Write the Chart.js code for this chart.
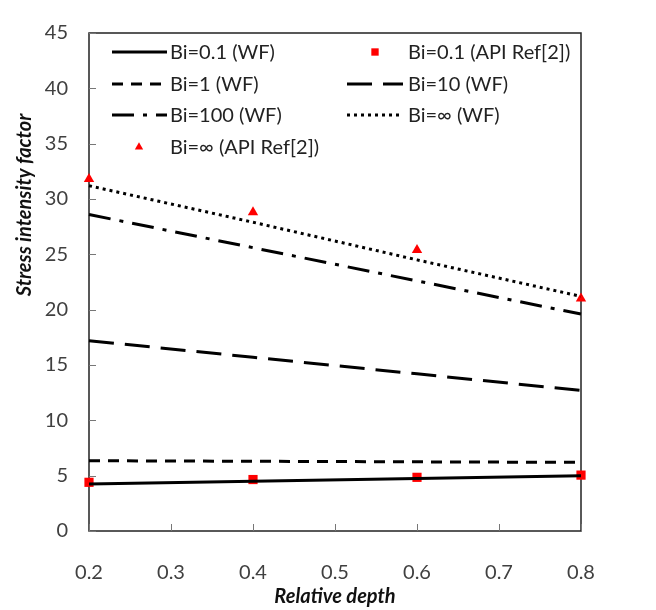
<!DOCTYPE html>
<html>
<head>
<meta charset="utf-8">
<script src="https://cdn.jsdelivr.net/npm/chart.js@4.4.0/dist/chart.umd.min.js"></script>
<style>
  body { margin: 0; background: #fff; }
  #wrap { width: 656px; height: 610px; }
</style>
</head>
<body>
<div id="wrap"><canvas id="myChart" width="656" height="610"></canvas></div>
<script>
// relative depth values (x)
const depth = [0.2, 0.4, 0.6, 0.8];

// weight function results
const wf_01 = [4.25, 4.5, 4.75, 5.0];
const wf_1 = [6.35, 6.3, 6.25, 6.2];
const wf_10 = [17.2, 15.7, 14.2, 12.7];
const wf_100 = [28.6, 25.6, 22.6, 19.6];
const wf_inf = [31.2, 27.9, 24.5, 21.2];

// API reference points
const api_01 = [4.4, 4.65, 4.85, 5.05];
const api_inf = [31.8, 28.8, 25.4, 21.0];

const xTicks = [0.2, 0.3, 0.4, 0.5, 0.6, 0.7, 0.8];
const yTicks = [0, 5, 10, 15, 20, 25, 30, 35, 40, 45];

const FONT = 'Lato, "Open Sans", sans-serif';
const TXT = '#404040';

const toXY = (ys) => ys.map((y, i) => ({x: depth[i], y: y}));

function lineSet(label, ys, dash, col, row){
    return {
        label: label, data: toXY(ys), showLine: true,
        borderColor: '#000', borderWidth: 3, borderDash: dash,
        pointRadius: 0, pointHoverRadius: 0, fill: false, clip: false,
        legendPos: [col, row]
    };
}
function pointSet(label, ys, style, r, col, row){
    return {
        label: label, data: toXY(ys), showLine: false, clip: false,
        backgroundColor: '#ff0000', borderColor: '#ff0000', borderWidth: 0,
        pointStyle: style, pointRadius: r, legendPos: [col, row]
    };
}

const datasets = [
    lineSet('Bi=0.1 (WF)', wf_01, [], 0, 0),
    lineSet('Bi=1 (WF)', wf_1, [11, 8], 0, 1),
    lineSet('Bi=10 (WF)', wf_10, [25, 11], 1, 1),
    lineSet('Bi=100 (WF)', wf_100, [22, 9, 4, 9], 0, 2),
    lineSet('Bi=\u221E (WF)', wf_inf, [3, 4], 1, 2),
    pointSet('Bi=0.1 (API Ref[2])', api_01, 'rect', 6.5, 1, 0),
    pointSet('Bi=\u221E (API Ref[2])', api_inf, 'triangle', 6, 0, 3)
];

// frame, inward ticks, y title and in-plot legend
const decor = {
    id: 'decor',
    beforeDatasetsDraw(chart){
        const ctx = chart.ctx;
        const a = chart.chartArea;
        const xs = chart.scales.x, ys = chart.scales.y;
        ctx.save();
        ctx.strokeStyle = '#222';
        ctx.lineWidth = 1.5;
        ctx.strokeRect(a.left, a.top, a.right - a.left, a.bottom - a.top);
        ctx.strokeStyle = '#777';
        ctx.lineWidth = 1;
        ctx.beginPath();
        yTicks.forEach(v => {
            const py = Math.round(ys.getPixelForValue(v)) + 0.5;
            ctx.moveTo(a.left, py); ctx.lineTo(a.left + 7, py);
        });
        xTicks.forEach(v => {
            const px = Math.round(xs.getPixelForValue(v)) + 0.5;
            ctx.moveTo(px, a.bottom); ctx.lineTo(px, a.bottom - 7);
        });
        ctx.stroke();
        ctx.restore();
    },
    afterDraw(chart){
        const ctx = chart.ctx;
        ctx.save();

        // y axis title
        ctx.save();
        ctx.translate(25, 205);
        ctx.rotate(-Math.PI / 2);
        ctx.font = 'italic bold 20px ' + FONT;
        ctx.fillStyle = '#111';
        ctx.textAlign = 'center';
        ctx.textBaseline = 'middle';
        ctx.fillText('Stress intensity factor', 0, 0);
        ctx.restore();

        // legend
        const colLine = [[112, 167], [347, 403]];
        const colText = [170, 408];
        const rowY = [52, 84, 115, 147];
        ctx.font = '20px ' + FONT;
        ctx.textBaseline = 'middle';
        chart.data.datasets.forEach(ds => {
            const [c, r] = ds.legendPos;
            const y = rowY[r];
            if(ds.showLine){
                ctx.save();
                ctx.strokeStyle = ds.borderColor;
                ctx.lineWidth = ds.borderWidth;
                ctx.setLineDash(ds.borderDash);
                ctx.beginPath();
                ctx.moveTo(colLine[c][0], y);
                ctx.lineTo(colLine[c][1], y);
                ctx.stroke();
                ctx.restore();
            }else{
                ctx.fillStyle = ds.backgroundColor;
                ctx.strokeStyle = ds.borderColor;
                ctx.lineWidth = 0;
                const mx = c === 0 ? 139 : 375;
                Chart.helpers.drawPoint(ctx, {pointStyle: ds.pointStyle, radius: ds.pointRadius * 0.8, borderWidth: 0}, mx, y);
            }
            ctx.fillStyle = '#222';
            ctx.textAlign = 'left';
            ctx.fillText(ds.label, colText[c], y + 1);
        });
        ctx.restore();
    }
};

new Chart(document.getElementById('myChart').getContext('2d'), {
    type: 'scatter',
    data: { datasets: datasets },
    options: {
        responsive: false,
        animation: false,
        layout: { padding: { top: 17, right: 75, left: 0, bottom: 0 } },
        plugins: { legend: { display: false }, tooltip: { enabled: false } },
        scales: {
            x: {
                type: 'linear', min: 0.2, max: 0.8,
                afterFit: s => { s.height = 79; },
                afterBuildTicks: s => { s.ticks = xTicks.map(v => ({value: v})); },
                grid: { display: false, drawTicks: false },
                border: { display: false },
                ticks: {
                    padding: 30, color: TXT, font: { family: FONT, size: 20 },
                    callback: v => v.toFixed(1)
                },
                title: {
                    display: true, text: 'Relative depth', color: '#111',
                    font: { family: FONT, size: 20, style: 'italic', weight: 'bold' },
                    padding: { top: 0, bottom: 1 }
                }
            },
            y: {
                type: 'linear', min: 0, max: 45,
                afterFit: s => { s.width = 89; },
                afterBuildTicks: s => { s.ticks = yTicks.map(v => ({value: v})); },
                grid: { display: false, drawTicks: false },
                border: { display: false },
                ticks: { padding: 21, color: TXT, font: { family: FONT, size: 20 } }
            }
        }
    },
    plugins: [decor]
});
</script>
</body>
</html>
